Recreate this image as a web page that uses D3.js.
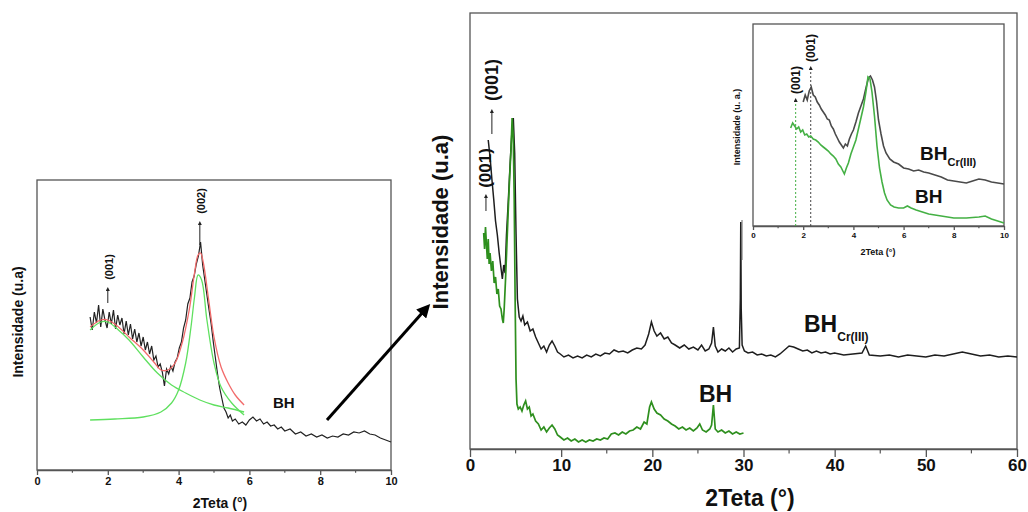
<!DOCTYPE html>
<html>
<head>
<meta charset="utf-8">
<script src="https://cdn.jsdelivr.net/npm/d3@7"></script>
<style>
    body { margin: 0; background: #fff; }
    svg text { font-family: "Liberation Sans", Arial, sans-serif; font-weight: bold; }
</style>
</head>
<body>
<div id="chart"></div>
<script>
// ---- left panel: BH with peak fits (0-10 deg) ----
const leftTheta = [1.50, 1.56, 1.62, 1.68, 1.74, 1.80, 1.86, 1.92, 1.98, 2.04, 2.10, 2.16, 2.22, 2.28, 2.34, 2.40,
    2.46, 2.52, 2.58, 2.64, 2.70, 2.76, 2.82, 2.88, 2.94, 3.00, 3.06, 3.12, 3.18, 3.24, 3.30, 3.36, 3.42, 3.48,
    3.54, 3.60, 3.66, 3.72, 3.78, 3.84, 3.90, 3.96, 4.02, 4.08, 4.14, 4.20, 4.26, 4.32, 4.38, 4.44, 4.50, 4.56,
    4.62, 4.68, 4.74, 4.80, 4.86, 4.92, 4.98, 5.04, 5.10, 5.16, 5.22, 5.28, 5.34, 5.40, 5.46, 5.52, 5.60, 5.70,
    5.80, 5.90, 6.00, 6.10, 6.20, 6.30, 6.40, 6.50, 6.60, 6.70, 6.80, 6.90, 7.00, 7.15, 7.30, 7.45, 7.60, 7.75,
    7.90, 8.05, 8.20, 8.35, 8.50, 8.65, 8.80, 8.95, 9.10, 9.25, 9.40, 9.55, 9.70, 9.85, 10.0];
const leftIntensity = [153, 140, 158, 147, 165, 143, 161, 150, 142, 158, 146, 160, 141, 155, 145, 152,
    136, 149, 135, 146, 131, 141, 128, 137, 124, 133, 120, 128, 116, 124, 110, 114, 103, 106,
    98, 84, 101, 96, 104, 99, 108, 112, 122, 128, 142, 150, 166, 172, 188, 194, 206, 214,
    228, 205, 190, 175, 160, 146, 128, 112, 96, 82, 72, 62, 58, 52, 55, 49, 51, 46,
    48, 45, 50, 53, 49, 51, 46, 48, 44, 45, 41, 43, 39, 41, 36, 38, 34, 36,
    33, 35, 32, 34, 33, 36, 35, 38, 37, 39, 36, 35, 32, 30, 28];

const fitTheta = [1.5, 1.8, 2.0, 2.3, 2.6, 3.0, 3.3, 3.5, 3.7, 3.9, 4.1, 4.3, 4.45, 4.55, 4.62, 4.7, 4.85, 5.0, 5.2, 5.4, 5.6, 5.85];
const fitSum = [143, 150, 150, 143, 133, 120, 108, 100, 100, 107, 127, 160, 197, 215, 217, 207, 170, 133, 103, 87, 75, 65];
const fitBroadTheta = [1.5, 1.8, 2.0, 2.3, 2.6, 3.0, 3.4, 3.8, 4.2, 4.6, 5.0, 5.4, 5.85];
const fitBroad = [140, 148, 148, 140, 130, 113, 97, 85, 77, 70, 65, 62, 58];
const fitNarrowTheta = [1.5, 2.2, 3.0, 3.5, 3.8, 4.0, 4.2, 4.35, 4.45, 4.55, 4.65, 4.8, 5.0, 5.2, 5.5, 5.85];
const fitNarrow = [50, 51, 53, 58, 67, 80, 107, 143, 173, 195, 190, 150, 107, 83, 67, 55];

const leftTicks = [0, 2, 4, 6, 8, 10];

// ---- main panel: BH and BH-Cr(III) (0-60 deg) ----
const crTheta = [2.0, 2.2, 2.4, 2.6, 2.8, 3.0, 3.2, 3.4, 3.55, 3.7, 3.85, 4.0, 4.2, 4.4, 4.6, 4.75, 4.9, 5.05, 5.2, 5.4,
    5.6, 5.8, 6.0, 6.3, 6.6, 6.9, 7.2, 7.5, 7.8, 8.1, 8.4, 8.7, 9.0, 9.3, 9.6, 9.9, 10.3, 10.8, 11.3, 11.8,
    12.3, 12.8, 13.3, 13.8, 14.3, 14.8, 15.3, 15.8, 16.3, 16.8, 17.3, 17.8, 18.3, 18.8, 19.2, 19.6, 19.9, 20.2, 20.5, 20.9,
    21.3, 21.7, 22.1, 22.5, 23.0, 23.5, 24.0, 24.5, 25.0, 25.4, 25.8, 26.2, 26.5, 26.7, 26.9, 27.2, 27.6, 28.0, 28.4, 28.8,
    29.2, 29.55, 29.65, 29.7, 29.75, 29.85, 30.1, 30.5, 31.0, 31.5, 32.0, 32.5, 33.0, 33.5, 34.0, 34.5, 35.0, 35.5, 36.0, 36.5,
    37.0, 37.5, 38.0, 38.5, 39.0, 39.5, 40.0, 41.0, 42.0, 43.0, 43.4, 43.8, 45, 46, 47, 48, 49, 50, 51, 52,
    53, 54, 55, 56, 57, 58, 59, 60];
const crIntensity = [309, 292, 270, 250, 228, 214, 196, 181, 170, 184, 176, 214, 248, 285, 318, 331, 296, 215, 150, 132,
    128, 133, 124, 127, 118, 120, 112, 106, 100, 103, 97, 104, 108, 103, 97, 95, 92, 94, 91, 93,
    91, 94, 92, 95, 93, 96, 95, 99, 97, 98, 96, 99, 101, 100, 104, 115, 127, 118, 113, 116,
    110, 112, 106, 104, 101, 104, 100, 102, 99, 104, 98, 100, 106, 122, 103, 97, 100, 98, 101, 97,
    100, 101, 150, 227, 140, 104, 98, 96, 97, 94, 95, 93, 94, 92, 95, 99, 103, 102, 100, 98,
    99, 96, 98, 96, 97, 95, 96, 94, 95, 96, 103, 94, 93, 94, 92, 94, 93, 92, 94, 93,
    95, 97, 95, 93, 94, 92, 93, 92];

const bhTheta = [1.5, 1.6, 1.7, 1.8, 1.9, 2.0, 2.1, 2.2, 2.35, 2.5, 2.65, 2.8, 2.95, 3.1, 3.25, 3.4, 3.55, 3.65, 3.75, 3.9,
    4.05, 4.2, 4.35, 4.5, 4.62, 4.75, 4.85, 4.95, 5.05, 5.15, 5.3, 5.5, 5.7, 5.9, 6.1, 6.3, 6.5, 6.7, 6.9, 7.2,
    7.5, 7.8, 8.1, 8.4, 8.7, 9.0, 9.3, 9.6, 9.9, 10.3, 10.7, 11.1, 11.5, 11.9, 12.3, 12.7, 13.1, 13.5, 13.9, 14.3,
    14.7, 15.1, 15.5, 15.9, 16.3, 16.7, 17.1, 17.5, 17.9, 18.3, 18.7, 19.1, 19.4, 19.7, 19.9, 20.2, 20.5, 20.9, 21.3, 21.7,
    22.1, 22.5, 22.9, 23.3, 23.7, 24.1, 24.5, 24.9, 25.2, 25.5, 25.9, 26.3, 26.5, 26.7, 26.9, 27.2, 27.6, 28.0, 28.4, 28.8,
    29.2, 29.6, 30.0];
const bhIntensity = [216, 200, 222, 205, 190, 210, 185, 196, 178, 188, 166, 172, 155, 160, 143, 140, 130, 126, 140, 170,
    205, 240, 272, 300, 331, 310, 250, 150, 70, 45, 40, 42, 38, 44, 48, 40, 42, 33, 35, 28,
    25, 19, 22, 17, 21, 24, 20, 14, 12, 9, 11, 8, 10, 7, 9, 7, 9, 8, 10, 9,
    11, 10, 15, 16, 14, 17, 15, 18, 19, 22, 20, 27, 25, 42, 47, 40, 36, 34, 30, 28,
    25, 23, 20, 22, 19, 21, 18, 21, 25, 19, 17, 20, 24, 44, 20, 17, 19, 16, 18, 15,
    17, 15, 16];

const mainTicks = [0, 10, 20, 30, 40, 50, 60];

// ---- inset: low-angle zoom (0-10 deg) ----
const insetCrTheta = [2.00, 2.08, 2.16, 2.24, 2.32, 2.40, 2.48, 2.56, 2.64, 2.72, 2.80, 2.88, 2.96, 3.04, 3.12, 3.20,
    3.28, 3.36, 3.44, 3.52, 3.60, 3.68, 3.76, 3.84, 3.92, 4.00, 4.10, 4.20, 4.30, 4.40, 4.50, 4.60, 4.68, 4.76,
    4.84, 4.92, 5.00, 5.10, 5.20, 5.30, 5.45, 5.60, 5.80, 6.00, 6.20, 6.40, 6.60, 6.80, 7.00, 7.25, 7.50, 7.75,
    8.00, 8.25, 8.50, 8.75, 9.00, 9.25, 9.50, 9.75, 10.0];
const insetCrIntensity = [124, 131, 126, 135, 139, 131, 129, 124, 121, 117, 114, 111, 107, 106, 100, 97,
    92, 88, 84, 81, 78, 82, 80, 87, 92, 96, 104, 113, 120, 127, 138, 148, 150, 146,
    139, 125, 106, 92, 80, 73, 67, 64, 62, 58, 57, 55, 56, 54, 53, 51, 49, 46,
    45, 44, 43, 45, 47, 46, 44, 43, 42];
const insetBhTheta = [1.50, 1.58, 1.66, 1.74, 1.82, 1.90, 1.98, 2.06, 2.14, 2.22, 2.30, 2.40, 2.50, 2.60, 2.70, 2.80,
    2.90, 3.00, 3.10, 3.20, 3.30, 3.40, 3.50, 3.58, 3.64, 3.72, 3.80, 3.90, 4.00, 4.10, 4.20, 4.30, 4.40, 4.50,
    4.58, 4.66, 4.74, 4.84, 4.94, 5.04, 5.14, 5.24, 5.34, 5.48, 5.62, 5.80, 6.00, 6.15, 6.30, 6.50, 6.75, 7.00,
    7.25, 7.50, 7.75, 8.00, 8.50, 9.00, 9.25, 9.50, 9.75, 10.0];
const insetBhIntensity = [98, 103, 100, 97, 99, 94, 96, 91, 92, 89, 90, 87, 86, 84, 81, 79,
    77, 75, 72, 70, 67, 62, 59, 55, 52, 58, 63, 72, 79, 86, 97, 108, 119, 134,
    149, 147, 134, 110, 80, 58, 44, 33, 26, 21, 19, 18, 18, 20, 18, 16, 14, 12,
    11, 10, 9, 8, 8, 9, 10, 7, 5, 3];
const insetTicks = [0, 2, 4, 6, 8, 10];
const insetPeaks = [1.7, 2.3];
const insetPeakTops = [126, 158];

const svgWidth = 1028;
const svgHeight = 512;

const svg = d3.select('#chart')
    .append('svg')
    .attr('width', svgWidth)
    .attr('height', svgHeight);

const defs = svg.append('defs');

defs.append('marker')
    .attr('id', 'smallHead')
    .attr('viewBox', '0 0 10 10')
    .attr('refX', 5)
    .attr('refY', 5)
    .attr('markerWidth', 4)
    .attr('markerHeight', 4)
    .attr('orient', 'auto')
    .append('path')
    .attr('d', 'M 0 0 L 10 5 L 0 10 z')
    .attr('fill', '#222');

defs.append('marker')
    .attr('id', 'bigHead')
    .attr('viewBox', '0 0 10 10')
    .attr('refX', 2)
    .attr('refY', 5)
    .attr('markerWidth', 4.5)
    .attr('markerHeight', 4.5)
    .attr('orient', 'auto')
    .append('path')
    .attr('d', 'M 0 0 L 10 5 L 0 10 z')
    .attr('fill', '#000');

function toPoints(thetas, values) {
    return thetas.map((t, i) => [t, values[i]]);
}

function rotatedText(g, x, y, size, text) {
    return g.append('text')
        .attr('transform', `translate(${x}, ${y}) rotate(-90)`)
        .attr('text-anchor', 'middle')
        .attr('dominant-baseline', 'central')
        .attr('font-size', size)
        .attr('fill', '#111')
        .text(text);
}

function peakArrow(g, x, yFrom, yTo) {
    g.append('line')
        .attr('x1', x)
        .attr('x2', x)
        .attr('y1', yFrom)
        .attr('y2', yTo)
        .attr('stroke', '#222')
        .attr('stroke-width', 1)
        .attr('marker-end', 'url(#smallHead)');
}

// box frame + bottom axis with major and minor ticks
function bottomAxis(g, x, y, ticks, minor, tickSize, fontSize) {
    const y0 = y.range()[0];
    const [x0, x1] = x.range();
    g.append('rect')
        .attr('x', x0)
        .attr('y', y.range()[1])
        .attr('width', x1 - x0)
        .attr('height', y0 - y.range()[1])
        .attr('fill', 'none')
        .attr('stroke', '#555')
        .attr('stroke-width', 1.3);

    g.selectAll(null)
        .data(minor)
        .enter()
        .append('line')
        .attr('x1', d => x(d))
        .attr('x2', d => x(d))
        .attr('y1', y0)
        .attr('y2', y0 + tickSize * 0.55)
        .attr('stroke', '#555')
        .attr('stroke-width', 1.2);

    const axisG = g.append('g')
        .attr('transform', `translate(0, ${y0})`)
        .call(d3.axisBottom(x).tickValues(ticks).tickSize(tickSize).tickPadding(2).tickSizeOuter(0));
    axisG.select('.domain').attr('stroke', '#555').attr('stroke-width', 1.3);
    axisG.selectAll('.tick line').attr('stroke', '#555').attr('stroke-width', 1.3);
    axisG.selectAll('.tick text')
        .attr('font-size', fontSize)
        .attr('font-family', '"Liberation Sans", Arial, sans-serif')
        .attr('fill', '#111');
}

drawLeftPanel();
drawMainPanel();
drawInset();

function drawLeftPanel() {
    const g = svg.append('g');
    const x = d3.scaleLinear().domain([0, 10]).range([37, 391]);
    const y = d3.scaleLinear().domain([0, 290]).range([470, 180]);

    bottomAxis(g, x, y, leftTicks, [1, 3, 5, 7, 9], 5, 11);

    const lineSmooth = d3.line().x(d => x(d[0])).y(d => y(d[1])).curve(d3.curveCatmullRom);
    const lineRaw = d3.line().x(d => x(d[0])).y(d => y(d[1]));

    g.append('path')
        .attr('d', lineRaw(toPoints(leftTheta, leftIntensity)))
        .attr('fill', 'none')
        .attr('stroke', '#222')
        .attr('stroke-width', 1.2);

    g.append('path')
        .attr('d', lineSmooth(toPoints(fitBroadTheta, fitBroad)))
        .attr('fill', 'none')
        .attr('stroke', '#5fe05f')
        .attr('stroke-width', 1.3);

    g.append('path')
        .attr('d', lineSmooth(toPoints(fitNarrowTheta, fitNarrow)))
        .attr('fill', 'none')
        .attr('stroke', '#5fe05f')
        .attr('stroke-width', 1.3);

    g.append('path')
        .attr('d', lineSmooth(toPoints(fitTheta, fitSum)))
        .attr('fill', 'none')
        .attr('stroke', '#f26b6b')
        .attr('stroke-width', 1.3);

    peakArrow(g, x(2.0), 303, 289);
    rotatedText(g, x(2.0) + 1, 267, 11, '(001)');
    peakArrow(g, x(4.6), 245, 223);
    rotatedText(g, x(4.6) + 1, 201, 11, '(002)');

    g.append('text')
        .attr('x', 273)
        .attr('y', 408)
        .attr('font-size', 15)
        .attr('fill', '#111')
        .text('BH');

    rotatedText(g, 18, 322, 14, 'Intensidade (u.a)');

    g.append('text')
        .attr('x', 220)
        .attr('y', 508)
        .attr('text-anchor', 'middle')
        .attr('font-size', 14)
        .attr('fill', '#111')
        .text('2Teta (°)');

    // connecting arrow to the main panel
    svg.append('line')
        .attr('x1', 327)
        .attr('y1', 420)
        .attr('x2', 423)
        .attr('y2', 312)
        .attr('stroke', '#000')
        .attr('stroke-width', 3)
        .attr('marker-end', 'url(#bigHead)');
}

function drawMainPanel() {
    const g = svg.append('g');
    const x = d3.scaleLinear().domain([0, 60]).range([470, 1017]);
    const y = d3.scaleLinear().domain([0, 436]).range([449, 13]);

    bottomAxis(g, x, y, mainTicks, [5, 15, 25, 35, 45, 55], 8, 17);

    const lineRaw = d3.line().x(d => x(d[0])).y(d => y(d[1]));

    g.append('path')
        .attr('d', lineRaw(toPoints(crTheta, crIntensity)))
        .attr('fill', 'none')
        .attr('stroke', '#1e1e1e')
        .attr('stroke-width', 1.5);

    g.append('path')
        .attr('d', lineRaw(toPoints(bhTheta, bhIntensity)))
        .attr('fill', 'none')
        .attr('stroke', '#2e8f1e')
        .attr('stroke-width', 1.7);

    peakArrow(g, x(2.4), 134, 111);
    rotatedText(g, x(2.4), 80, 18, '(001)');
    peakArrow(g, x(1.75), 211, 196);
    rotatedText(g, x(1.75), 168, 17, '(001)');

    const crLabel = g.append('text')
        .attr('x', 804)
        .attr('y', 332)
        .attr('font-size', 23)
        .attr('fill', '#111');
    crLabel.append('tspan').text('BH');
    crLabel.append('tspan').attr('dy', 9).attr('font-size', 12).text('Cr(III)');

    g.append('text')
        .attr('x', 699)
        .attr('y', 402)
        .attr('font-size', 23)
        .attr('fill', '#111')
        .text('BH');

    rotatedText(g, 440, 222, 22, 'Intensidade (u.a)');

    g.append('text')
        .attr('x', 750)
        .attr('y', 506)
        .attr('text-anchor', 'middle')
        .attr('font-size', 23)
        .attr('fill', '#111')
        .text('2Teta (°)');
}

function drawInset() {
    const g = svg.append('g');
    const x = d3.scaleLinear().domain([0, 10]).range([753, 1004]);
    const y = d3.scaleLinear().domain([0, 202]).range([226, 24]);

    g.append('rect')
        .attr('x', 753)
        .attr('y', 24)
        .attr('width', 251)
        .attr('height', 202)
        .attr('fill', '#fff');

    bottomAxis(g, x, y, insetTicks, [1, 3, 5, 7, 9], 4, 8);

    // stray vertical stroke left of the inset
    g.append('line')
        .attr('x1', 742)
        .attr('x2', 742)
        .attr('y1', 220)
        .attr('y2', 260)
        .attr('stroke', '#666')
        .attr('stroke-width', 1);

    const lineRaw = d3.line().x(d => x(d[0])).y(d => y(d[1]));

    const peakColors = ['#44b044', '#444'];
    insetPeaks.forEach((p, i) => {
        g.append('line')
            .attr('x1', x(p))
            .attr('x2', x(p))
            .attr('y1', y(0))
            .attr('y2', y(insetPeakTops[i]))
            .attr('stroke', peakColors[i])
            .attr('stroke-width', 1)
            .attr('stroke-dasharray', '2,2')
            .attr('marker-end', 'url(#smallHead)');
        rotatedText(g, x(p), y(insetPeakTops[i]) - 20, 12, '(001)');
    });

    g.append('path')
        .attr('d', lineRaw(toPoints(insetCrTheta, insetCrIntensity)))
        .attr('fill', 'none')
        .attr('stroke', '#4a4a4a')
        .attr('stroke-width', 1.6);

    g.append('path')
        .attr('d', lineRaw(toPoints(insetBhTheta, insetBhIntensity)))
        .attr('fill', 'none')
        .attr('stroke', '#44b044')
        .attr('stroke-width', 1.6);

    const crLabel = g.append('text')
        .attr('x', 920)
        .attr('y', 160)
        .attr('font-size', 19)
        .attr('fill', '#111');
    crLabel.append('tspan').text('BH');
    crLabel.append('tspan').attr('dy', 6).attr('font-size', 11).text('Cr(III)');

    g.append('text')
        .attr('x', 915)
        .attr('y', 203)
        .attr('font-size', 19)
        .attr('fill', '#111')
        .text('BH');

    rotatedText(g, 737, 127, 9, 'Intensidade (u. a.)');

    g.append('text')
        .attr('x', 878)
        .attr('y', 255)
        .attr('text-anchor', 'middle')
        .attr('font-size', 9)
        .attr('fill', '#111')
        .text('2Teta (°)');
}
</script>
</body>
</html>
